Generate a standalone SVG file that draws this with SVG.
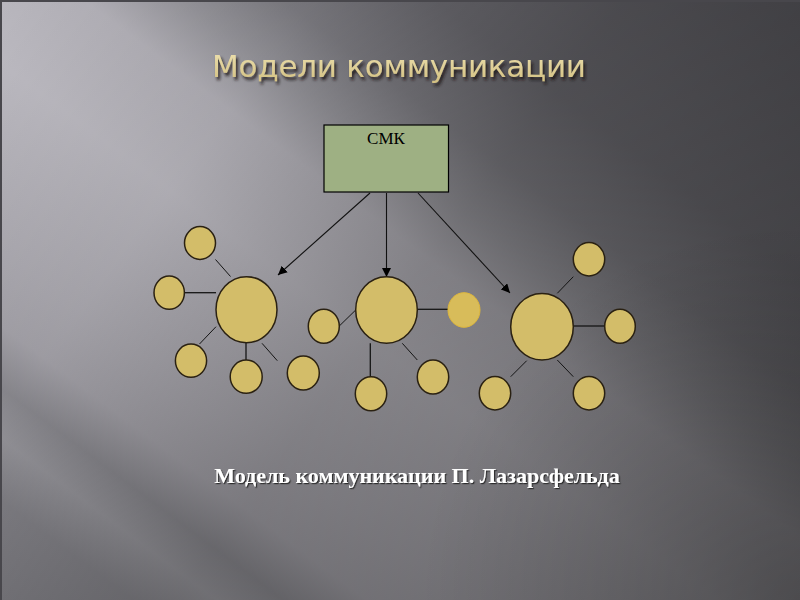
<svg xmlns="http://www.w3.org/2000/svg" width="800" height="600" viewBox="0 0 800 600">
  <defs>
    <linearGradient id="bands" gradientUnits="userSpaceOnUse" x1="100" y1="700" x2="700" y2="-100">
      <stop offset="0" stop-color="#85848a"/>
      <stop offset="0.10" stop-color="#8a898f"/>
      <stop offset="0.15" stop-color="#9d9ca2"/>
      <stop offset="0.19" stop-color="#908f95"/>
      <stop offset="0.24" stop-color="#aaa8af"/>
      <stop offset="0.30" stop-color="#b0aeb5"/>
      <stop offset="0.45" stop-color="#bcbac1"/>
      <stop offset="0.55" stop-color="#b4b2b9"/>
      <stop offset="0.61" stop-color="#98979d"/>
      <stop offset="0.67" stop-color="#807f85"/>
      <stop offset="0.76" stop-color="#6e6d73"/>
      <stop offset="1" stop-color="#5f5e64"/>
    </linearGradient>
    <linearGradient id="fade" gradientUnits="userSpaceOnUse" x1="0" y1="0" x2="800" y2="600">
      <stop offset="0" stop-color="#000" stop-opacity="0"/>
      <stop offset="0.25" stop-color="#000" stop-opacity="0.08"/>
      <stop offset="0.5" stop-color="#000" stop-opacity="0.28"/>
      <stop offset="1" stop-color="#000" stop-opacity="0.45"/>
    </linearGradient>
    <radialGradient id="corner" gradientUnits="userSpaceOnUse" cx="800" cy="600" r="380">
      <stop offset="0" stop-color="#000" stop-opacity="0.25"/>
      <stop offset="1" stop-color="#000" stop-opacity="0"/>
    </radialGradient>
    <linearGradient id="titleFill" x1="0" y1="0" x2="0" y2="1">
      <stop offset="0" stop-color="#efe3b2"/>
      <stop offset="1" stop-color="#d2bf80"/>
    </linearGradient>
    <filter id="shadow" x="-10%" y="-30%" width="120%" height="160%">
      <feDropShadow dx="2" dy="3" stdDeviation="1.5" flood-color="#1a1814" flood-opacity="0.9"/>
    </filter>
    <filter id="capShadow" x="-5%" y="-30%" width="110%" height="160%">
      <feDropShadow dx="1.2" dy="1.2" stdDeviation="0.6" flood-color="#202024" flood-opacity="0.9"/>
    </filter>
    <marker id="arrow" viewBox="0 0 10 10" refX="10" refY="5" markerWidth="9" markerHeight="9" markerUnits="userSpaceOnUse" orient="auto">
      <path d="M0,0 L10,5 L0,10 Z" fill="#000"/>
    </marker>
    <style>
      .node ellipse { fill: #d3bd69; stroke: #2a2112; stroke-width: 1.5; }
      .node ellipse.hl { fill: #d8bc5a; stroke: #e0b83a; stroke-width: 1; }
      .spoke { stroke: #151515; stroke-width: 1.3; }
      .spoke.thin { stroke-width: 1; }
      .arrow { stroke: #111; stroke-width: 1.1; fill: none; marker-end: url(#arrow); }
    </style>
  </defs>

  <!-- background -->
  <rect x="0" y="0" width="800" height="600" fill="url(#bands)"/>
  <rect x="0" y="0" width="800" height="600" fill="url(#fade)"/>
  <rect x="0" y="0" width="800" height="600" fill="url(#corner)"/>
  <path d="M1,600 L1,1 L800,1" fill="none" stroke="#48474c" stroke-width="2"/>

  <!-- title -->
  <text x="399" y="77" text-anchor="middle" font-family="DejaVu Sans, Verdana, sans-serif" font-size="31" fill="url(#titleFill)" filter="url(#shadow)" textLength="374" lengthAdjust="spacing">Модели коммуникации</text>

  <!-- connectors -->
  <g id="connectors">
    <line class="arrow" x1="370" y1="193" x2="278" y2="275"/>
    <line class="arrow" x1="386.5" y1="193" x2="386.5" y2="277"/>
    <line class="arrow" x1="418" y1="193" x2="510" y2="293"/>

    <line class="spoke thin" x1="215.5" y1="259.5" x2="230.5" y2="276.5"/>
    <line class="spoke" x1="184.5" y1="292.7" x2="216" y2="292.7"/>
    <line class="spoke thin" x1="199.5" y1="344" x2="216" y2="326.7"/>
    <line class="spoke" x1="246" y1="342.7" x2="246" y2="360"/>
    <line class="spoke thin" x1="262" y1="343.3" x2="277.3" y2="360.7"/>

    <line class="spoke" x1="417.3" y1="309.3" x2="448" y2="309.3"/>
    <line class="spoke thin" x1="339.3" y1="326" x2="355.7" y2="310"/>
    <line class="spoke" x1="370.3" y1="343.3" x2="370.3" y2="376.7"/>
    <line class="spoke thin" x1="402.3" y1="343.3" x2="417.3" y2="360"/>

    <line class="spoke thin" x1="557.3" y1="293.3" x2="573.3" y2="276.7"/>
    <line class="spoke" x1="573.3" y1="326" x2="604.7" y2="326"/>
    <line class="spoke thin" x1="510.7" y1="376.7" x2="526.7" y2="360.7"/>
    <line class="spoke thin" x1="557.3" y1="360" x2="573.3" y2="376.7"/>
  </g>

  <!-- СМК box -->
  <g id="smk">
    <rect x="324" y="125" width="124.5" height="67" fill="#9eb083" stroke="#000" stroke-width="1.2"/>
    <text x="386" y="144" text-anchor="middle" font-family="Liberation Serif, Times New Roman, serif" font-size="17" fill="#000">СМК</text>
  </g>

  <!-- left cluster -->
  <g id="hub-left" class="node"><ellipse cx="246.5" cy="309.7" rx="30.5" ry="33"/></g>
  <g id="left-top" class="node"><ellipse cx="200" cy="243" rx="15.5" ry="16.4"/></g>
  <g id="left-left" class="node"><ellipse cx="169.2" cy="292.7" rx="15.2" ry="16.6"/></g>
  <g id="left-bl" class="node"><ellipse cx="191" cy="360.7" rx="15.6" ry="16.6"/></g>
  <g id="left-bottom" class="node"><ellipse cx="246.2" cy="376.7" rx="16" ry="16.6"/></g>
  <g id="left-br" class="node"><ellipse cx="303.3" cy="373" rx="16" ry="17"/></g>

  <!-- middle cluster -->
  <g id="hub-mid" class="node"><ellipse cx="386.5" cy="310" rx="30.8" ry="33.3"/></g>
  <g id="mid-left" class="node"><ellipse cx="323.8" cy="326.3" rx="15.5" ry="17"/></g>
  <g id="mid-right" class="node"><ellipse class="hl" cx="464" cy="310" rx="16" ry="17.3"/></g>
  <g id="mid-bottom" class="node"><ellipse cx="371" cy="393.7" rx="15.7" ry="17"/></g>
  <g id="mid-br" class="node"><ellipse cx="433" cy="377" rx="15.7" ry="17"/></g>

  <!-- right cluster -->
  <g id="hub-right" class="node"><ellipse cx="542" cy="326.7" rx="31.3" ry="33.3"/></g>
  <g id="right-tr" class="node"><ellipse cx="589" cy="259.3" rx="15.7" ry="16.7"/></g>
  <g id="right-right" class="node"><ellipse cx="620" cy="326.3" rx="15.3" ry="17"/></g>
  <g id="right-bl" class="node"><ellipse cx="495" cy="393.3" rx="15.7" ry="16.7"/></g>
  <g id="right-br" class="node"><ellipse cx="589" cy="393.3" rx="15.7" ry="16.7"/></g>

  <!-- caption -->
  <text x="417" y="483" text-anchor="middle" font-family="Liberation Serif, Times New Roman, serif" font-size="22" font-weight="bold" fill="#ffffff" filter="url(#capShadow)">Модель коммуникации П. Лазарсфельда</text>
</svg>
